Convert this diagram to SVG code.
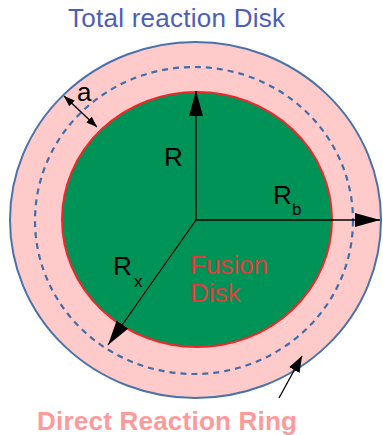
<svg xmlns="http://www.w3.org/2000/svg" width="383" height="435" viewBox="0 0 383 435">
<style>
.t{font-family:"Liberation Sans",Arial,sans-serif;font-size:26px}
.s{font-size:17px}
.ln{stroke:#000;stroke-width:1.3;fill:none}
</style>
<defs>
<marker id="big" markerUnits="userSpaceOnUse" markerWidth="25" markerHeight="14" refX="25" refY="7" orient="auto"><path d="M0,0 L25,7 L0,14 z" fill="#000"/></marker>
<marker id="sm" markerUnits="userSpaceOnUse" markerWidth="11" markerHeight="8" refX="11" refY="4" orient="auto-start-reverse"><path d="M0,0 L11,4 L0,8 z" fill="#000"/></marker>
<marker id="md" markerUnits="userSpaceOnUse" markerWidth="16" markerHeight="12" refX="16" refY="6" orient="auto"><path d="M0,0 L16,6 L0,12 z" fill="#000"/></marker>
</defs>
<g id="total-disk">
<ellipse cx="195.5" cy="220" rx="185.5" ry="178" fill="#ffcaca" stroke="#4a72a8" stroke-width="2"/>
<text class="t" x="68" y="27" fill="#4d5dba" textLength="217">Total reaction Disk</text>
</g>
<g id="direct-ring">
<ellipse cx="194" cy="220.5" rx="159" ry="153.5" fill="none" stroke="#3f6ea8" stroke-width="2.2" stroke-dasharray="6,5"/>
<text class="t" x="37" y="430" fill="#ff9a9a" font-weight="bold" textLength="260">Direct Reaction Ring</text>
</g>
<g id="fusion-disk">
<ellipse cx="197" cy="219.5" rx="135" ry="127.5" fill="#009358" stroke="#ee2828" stroke-width="2"/>
<text class="t" x="190" y="274" fill="#e03c3c">Fusion</text>
<text class="t" x="190" y="302" fill="#e03c3c">Disk</text>
</g>
<g id="connectors">
<line class="ln" x1="196" y1="220" x2="196" y2="91" marker-end="url(#big)"/>
<line class="ln" x1="196" y1="220" x2="380" y2="220" marker-end="url(#big)"/>
<line class="ln" x1="196" y1="220" x2="108" y2="345" marker-end="url(#big)"/>
<line class="ln" x1="64" y1="96" x2="97" y2="127" marker-start="url(#sm)" marker-end="url(#sm)"/>
<line class="ln" x1="279" y1="398" x2="302" y2="356" marker-end="url(#md)"/>
</g>
<g id="labels">
<text class="t" x="164" y="166" fill="#000">R</text>
<text class="t" x="273" y="204" fill="#000">R</text>
<text class="t s" x="292" y="215" fill="#000">b</text>
<text class="t" x="113" y="275" fill="#000">R</text>
<text class="t s" x="134" y="287" fill="#000">x</text>
<text class="t" x="77" y="101" fill="#000">a</text>
</g>
</svg>
